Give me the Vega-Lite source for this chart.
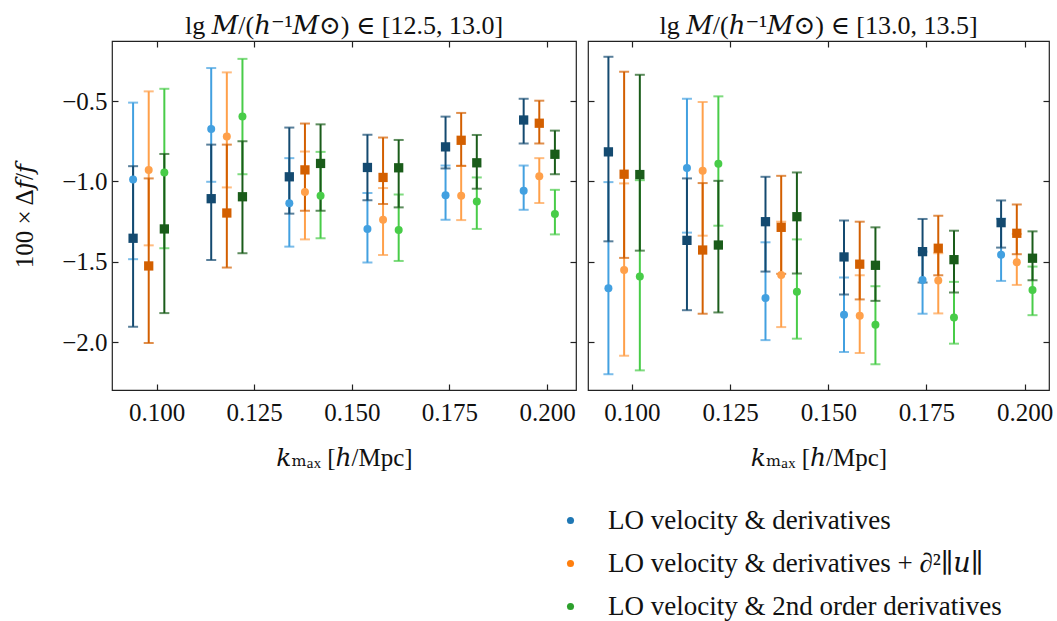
{
  "$schema": "https://vega.github.io/schema/vega-lite/v6.json",
  "padding": {"left": 12, "top": 12, "right": 5, "bottom": 5},
  "spacing": 8,
  "datasets": {
    "L": [
      {"x":0.094,"y":-0.988,"lo":-1.483,"hi":-0.510,"t":"bc","s":"c"},
      {"x":0.098,"y":-0.928,"lo":-1.397,"hi":-0.440,"t":"oc","s":"c"},
      {"x":0.102,"y":-0.944,"lo":-1.415,"hi":-0.424,"t":"gc","s":"c"},
      {"x":0.114,"y":-0.674,"lo":-1.002,"hi":-0.295,"t":"bc","s":"c"},
      {"x":0.118,"y":-0.721,"lo":-1.037,"hi":-0.322,"t":"oc","s":"c"},
      {"x":0.122,"y":-0.597,"lo":-0.955,"hi":-0.238,"t":"gc","s":"c"},
      {"x":0.134,"y":-1.136,"lo":-1.405,"hi":-0.855,"t":"bc","s":"c"},
      {"x":0.138,"y":-1.066,"lo":-1.360,"hi":-0.814,"t":"oc","s":"c"},
      {"x":0.142,"y":-1.089,"lo":-1.353,"hi":-0.816,"t":"gc","s":"c"},
      {"x":0.154,"y":-1.295,"lo":-1.504,"hi":-1.072,"t":"bc","s":"c"},
      {"x":0.158,"y":-1.238,"lo":-1.457,"hi":-1.041,"t":"oc","s":"c"},
      {"x":0.162,"y":-1.302,"lo":-1.494,"hi":-1.081,"t":"gc","s":"c"},
      {"x":0.174,"y":-1.085,"lo":-1.238,"hi":-0.901,"t":"bc","s":"c"},
      {"x":0.178,"y":-1.089,"lo":-1.240,"hi":-0.903,"t":"oc","s":"c"},
      {"x":0.182,"y":-1.124,"lo":-1.295,"hi":-0.975,"t":"gc","s":"c"},
      {"x":0.194,"y":-1.058,"lo":-1.176,"hi":-0.901,"t":"bc","s":"c"},
      {"x":0.198,"y":-0.967,"lo":-1.134,"hi":-0.855,"t":"oc","s":"c"},
      {"x":0.202,"y":-1.202,"lo":-1.329,"hi":-1.052,"t":"gc","s":"c"},
      {"x":0.094,"y":-1.353,"lo":-1.903,"hi":-0.905,"t":"bs","s":"s"},
      {"x":0.098,"y":-1.525,"lo":-2.004,"hi":-0.981,"t":"os","s":"s"},
      {"x":0.102,"y":-1.295,"lo":-1.818,"hi":-0.829,"t":"gs","s":"s"},
      {"x":0.114,"y":-1.107,"lo":-1.488,"hi":-0.771,"t":"bs","s":"s"},
      {"x":0.118,"y":-1.196,"lo":-1.535,"hi":-0.771,"t":"os","s":"s"},
      {"x":0.122,"y":-1.095,"lo":-1.446,"hi":-0.750,"t":"gs","s":"s"},
      {"x":0.134,"y":-0.971,"lo":-1.200,"hi":-0.665,"t":"bs","s":"s"},
      {"x":0.138,"y":-0.928,"lo":-1.182,"hi":-0.640,"t":"os","s":"s"},
      {"x":0.142,"y":-0.888,"lo":-1.182,"hi":-0.645,"t":"gs","s":"s"},
      {"x":0.154,"y":-0.913,"lo":-1.116,"hi":-0.709,"t":"bs","s":"s"},
      {"x":0.158,"y":-0.975,"lo":-1.140,"hi":-0.727,"t":"os","s":"s"},
      {"x":0.162,"y":-0.915,"lo":-1.161,"hi":-0.742,"t":"gs","s":"s"},
      {"x":0.174,"y":-0.785,"lo":-0.919,"hi":-0.597,"t":"bs","s":"s"},
      {"x":0.178,"y":-0.744,"lo":-0.903,"hi":-0.574,"t":"os","s":"s"},
      {"x":0.182,"y":-0.884,"lo":-1.045,"hi":-0.711,"t":"gs","s":"s"},
      {"x":0.194,"y":-0.618,"lo":-0.764,"hi":-0.486,"t":"bs","s":"s"},
      {"x":0.198,"y":-0.638,"lo":-0.764,"hi":-0.498,"t":"os","s":"s"},
      {"x":0.202,"y":-0.831,"lo":-0.955,"hi":-0.684,"t":"gs","s":"s"}
    ],
    "R": [
      {"x":0.094,"y":-1.663,"lo":-2.198,"hi":-1.004,"t":"bc","s":"c"},
      {"x":0.098,"y":-1.550,"lo":-2.083,"hi":-1.012,"t":"oc","s":"c"},
      {"x":0.102,"y":-1.591,"lo":-2.174,"hi":-0.992,"t":"gc","s":"c"},
      {"x":0.114,"y":-0.917,"lo":-1.318,"hi":-0.486,"t":"bc","s":"c"},
      {"x":0.118,"y":-0.934,"lo":-1.337,"hi":-0.506,"t":"oc","s":"c"},
      {"x":0.122,"y":-0.890,"lo":-1.275,"hi":-0.471,"t":"gc","s":"c"},
      {"x":0.134,"y":-1.725,"lo":-1.986,"hi":-1.378,"t":"bc","s":"c"},
      {"x":0.138,"y":-1.581,"lo":-1.905,"hi":-1.250,"t":"oc","s":"c"},
      {"x":0.142,"y":-1.686,"lo":-1.977,"hi":-1.360,"t":"gc","s":"c"},
      {"x":0.154,"y":-1.828,"lo":-2.060,"hi":-1.597,"t":"bc","s":"c"},
      {"x":0.158,"y":-1.835,"lo":-2.066,"hi":-1.583,"t":"oc","s":"c"},
      {"x":0.162,"y":-1.890,"lo":-2.136,"hi":-1.651,"t":"gc","s":"c"},
      {"x":0.174,"y":-1.612,"lo":-1.822,"hi":-1.436,"t":"bc","s":"c"},
      {"x":0.178,"y":-1.616,"lo":-1.820,"hi":-1.446,"t":"oc","s":"c"},
      {"x":0.182,"y":-1.845,"lo":-2.008,"hi":-1.624,"t":"gc","s":"c"},
      {"x":0.194,"y":-1.455,"lo":-1.618,"hi":-1.231,"t":"bc","s":"c"},
      {"x":0.198,"y":-1.502,"lo":-1.643,"hi":-1.326,"t":"oc","s":"c"},
      {"x":0.202,"y":-1.674,"lo":-1.831,"hi":-1.529,"t":"gc","s":"c"},
      {"x":0.094,"y":-0.816,"lo":-1.372,"hi":-0.225,"t":"bs","s":"s"},
      {"x":0.098,"y":-0.955,"lo":-1.475,"hi":-0.318,"t":"os","s":"s"},
      {"x":0.102,"y":-0.957,"lo":-1.430,"hi":-0.337,"t":"gs","s":"s"},
      {"x":0.114,"y":-1.366,"lo":-1.800,"hi":-0.981,"t":"bs","s":"s"},
      {"x":0.118,"y":-1.426,"lo":-1.822,"hi":-1.010,"t":"os","s":"s"},
      {"x":0.122,"y":-1.395,"lo":-1.814,"hi":-0.996,"t":"gs","s":"s"},
      {"x":0.134,"y":-1.250,"lo":-1.560,"hi":-0.971,"t":"bs","s":"s"},
      {"x":0.138,"y":-1.285,"lo":-1.574,"hi":-0.965,"t":"os","s":"s"},
      {"x":0.142,"y":-1.219,"lo":-1.572,"hi":-0.944,"t":"gs","s":"s"},
      {"x":0.154,"y":-1.469,"lo":-1.702,"hi":-1.242,"t":"bs","s":"s"},
      {"x":0.158,"y":-1.514,"lo":-1.733,"hi":-1.250,"t":"os","s":"s"},
      {"x":0.162,"y":-1.521,"lo":-1.742,"hi":-1.285,"t":"gs","s":"s"},
      {"x":0.174,"y":-1.436,"lo":-1.628,"hi":-1.233,"t":"bs","s":"s"},
      {"x":0.178,"y":-1.415,"lo":-1.583,"hi":-1.213,"t":"os","s":"s"},
      {"x":0.182,"y":-1.486,"lo":-1.690,"hi":-1.306,"t":"gs","s":"s"},
      {"x":0.194,"y":-1.256,"lo":-1.411,"hi":-1.118,"t":"bs","s":"s"},
      {"x":0.198,"y":-1.322,"lo":-1.452,"hi":-1.143,"t":"os","s":"s"},
      {"x":0.202,"y":-1.477,"lo":-1.614,"hi":-1.310,"t":"gs","s":"s"}
    ],
    "M": [
      {"m":"LO velocity & derivatives"},
      {"m":"LO velocity & derivatives + ∂²∥𝑢∥"},
      {"m":"LO velocity & 2nd order derivatives"}
    ]
  },
  "config": {
    "font": "Liberation Serif, DejaVu Serif",
    "view": {"stroke": "#222222", "strokeWidth": 1.2},
    "style": {
      "guide-label": {"font": "Liberation Serif, DejaVu Serif"},
      "guide-title": {"font": "Liberation Serif, DejaVu Serif"},
      "group-title": {"font": "Liberation Serif, DejaVu Serif"}
    },
    "axis": {
      "domain": false, "grid": false, "tickSize": -6, "tickColor": "#222222", "tickWidth": 1.2,
      "labelFont": "Liberation Serif, DejaVu Serif", "labelFontSize": 25, "labelColor": "#111111",
      "titleFont": "Liberation Serif, DejaVu Serif", "titleFontSize": 25, "titleFontWeight": "normal", "titleColor": "#111111"
    },
    "title": {"font": "Liberation Serif, DejaVu Serif", "fontSize": 26, "fontWeight": "normal", "color": "#111111", "offset": 1},
    "legend": {"labelFont": "Liberation Serif, DejaVu Serif", "labelFontSize": 27, "labelColor": "#111111", "padding": 0}
  },
  "hconcat": [
    {
      "width": 464, "height": 349,
      "title": "lg 𝑀/(ℎ⁻¹𝑀⊙) ∈ [12.5, 13.0]",
      "data": {"name": "L"},
      "resolve": {"axis": {"x": "independent", "y": "independent"}},
      "layer": [
        {
          "transform": [{"filter": "datum.s == 'c'"}],
          "mark": {"type": "rule", "strokeWidth": 2},
          "encoding": {
            "x": {"field": "x", "type": "quantitative", "scale": {"domain": [0.0886, 0.2074], "nice": false, "zero": false},
                  "axis": {"orient": "bottom", "values": [0.1, 0.125, 0.15, 0.175, 0.2], "format": ".3f", "labelPadding": 16, "labelFont": "Liberation Serif, DejaVu Serif", "titleFont": "Liberation Serif, DejaVu Serif", "title": "𝑘ₘₐₓ [ℎ/Mpc]", "titlePadding": 20}},
            "y": {"field": "lo", "type": "quantitative", "scale": {"domain": [-2.296, -0.127], "nice": false, "zero": false},
                  "axis": {"orient": "left", "values": [-2, -1.5, -1, -0.5], "format": ".1f", "labelPadding": 11, "labelFont": "Liberation Serif, DejaVu Serif", "titleFont": "Liberation Serif, DejaVu Serif", "title": "100 × Δ𝑓/𝑓", "titlePadding": 24}},
            "y2": {"field": "hi"},
            "color": {"field": "t", "type": "nominal", "legend": null,
                      "scale": {"domain": ["bc", "oc", "gc", "bs", "os", "gs"], "range": ["#42a0e0", "#ffa04a", "#48cc48", "#144a70", "#d35f00", "#1a5c1a"]}}
          }
        },
        {
          "transform": [{"filter": "datum.s == 'c'"}],
          "mark": {"type": "tick", "orient": "horizontal", "size": 10, "thickness": 2},
          "encoding": {
            "x": {"field": "x", "type": "quantitative", "axis": {"orient": "top", "values": [0.1, 0.125, 0.15, 0.175, 0.2], "labels": false, "title": null}},
            "y": {"field": "lo", "type": "quantitative", "axis": {"orient": "right", "values": [-2, -1.5, -1, -0.5], "labels": false, "title": null}},
            "color": {"field": "t", "type": "nominal", "legend": null}
          }
        },
        {
          "transform": [{"filter": "datum.s == 'c'"}],
          "mark": {"type": "tick", "orient": "horizontal", "size": 10, "thickness": 2},
          "encoding": {
            "x": {"field": "x", "type": "quantitative", "axis": null},
            "y": {"field": "hi", "type": "quantitative", "axis": null},
            "color": {"field": "t", "type": "nominal", "legend": null}
          }
        },
        {
          "transform": [{"filter": "datum.s == 's'"}],
          "mark": {"type": "rule", "strokeWidth": 2},
          "encoding": {
            "x": {"field": "x", "type": "quantitative", "axis": null},
            "y": {"field": "lo", "type": "quantitative", "axis": null},
            "y2": {"field": "hi"},
            "color": {"field": "t", "type": "nominal", "legend": null}
          }
        },
        {
          "transform": [{"filter": "datum.s == 's'"}],
          "mark": {"type": "tick", "orient": "horizontal", "size": 10, "thickness": 2},
          "encoding": {
            "x": {"field": "x", "type": "quantitative", "axis": null},
            "y": {"field": "lo", "type": "quantitative", "axis": null},
            "color": {"field": "t", "type": "nominal", "legend": null}
          }
        },
        {
          "transform": [{"filter": "datum.s == 's'"}],
          "mark": {"type": "tick", "orient": "horizontal", "size": 10, "thickness": 2},
          "encoding": {
            "x": {"field": "x", "type": "quantitative", "axis": null},
            "y": {"field": "hi", "type": "quantitative", "axis": null},
            "color": {"field": "t", "type": "nominal", "legend": null}
          }
        },
        {
          "transform": [{"filter": "datum.s == 'c'"}],
          "mark": {"type": "circle", "size": 64, "opacity": 1},
          "encoding": {
            "x": {"field": "x", "type": "quantitative", "axis": null},
            "y": {"field": "y", "type": "quantitative", "axis": null},
            "color": {"field": "t", "type": "nominal", "legend": null}
          }
        },
        {
          "transform": [{"filter": "datum.s == 's'"}],
          "mark": {"type": "square", "size": 86, "opacity": 1},
          "encoding": {
            "x": {"field": "x", "type": "quantitative", "axis": null},
            "y": {"field": "y", "type": "quantitative", "axis": null},
            "color": {"field": "t", "type": "nominal", "legend": null}
          }
        }
      ]
    },
    {
      "width": 461, "height": 349,
      "title": "lg 𝑀/(ℎ⁻¹𝑀⊙) ∈ [13.0, 13.5]",
      "resolve": {"axis": {"x": "independent", "y": "independent"}},
      "layer": [
        {
          "data": {"name": "R"},
          "transform": [{"filter": "datum.s == 'c'"}],
          "mark": {"type": "rule", "strokeWidth": 2},
          "encoding": {
            "x": {"field": "x", "type": "quantitative", "scale": {"domain": [0.0888, 0.2062], "nice": false, "zero": false},
                  "axis": {"orient": "bottom", "values": [0.1, 0.125, 0.15, 0.175, 0.2], "format": ".3f", "labelPadding": 16, "labelFont": "Liberation Serif, DejaVu Serif", "titleFont": "Liberation Serif, DejaVu Serif", "title": "𝑘ₘₐₓ [ℎ/Mpc]", "titlePadding": 20}},
            "y": {"field": "lo", "type": "quantitative", "scale": {"domain": [-2.296, -0.127], "nice": false, "zero": false},
                  "axis": {"orient": "left", "values": [-2, -1.5, -1, -0.5], "labels": false, "title": null}},
            "y2": {"field": "hi"},
            "color": {"field": "t", "type": "nominal", "legend": null,
                      "scale": {"domain": ["bc", "oc", "gc", "bs", "os", "gs"], "range": ["#42a0e0", "#ffa04a", "#48cc48", "#144a70", "#d35f00", "#1a5c1a"]}}
          }
        },
        {
          "data": {"name": "R"},
          "transform": [{"filter": "datum.s == 'c'"}],
          "mark": {"type": "tick", "orient": "horizontal", "size": 10, "thickness": 2},
          "encoding": {
            "x": {"field": "x", "type": "quantitative", "axis": {"orient": "top", "values": [0.1, 0.125, 0.15, 0.175, 0.2], "labels": false, "title": null}},
            "y": {"field": "lo", "type": "quantitative", "axis": {"orient": "right", "values": [-2, -1.5, -1, -0.5], "labels": false, "title": null}},
            "color": {"field": "t", "type": "nominal", "legend": null}
          }
        },
        {
          "data": {"name": "R"},
          "transform": [{"filter": "datum.s == 'c'"}],
          "mark": {"type": "tick", "orient": "horizontal", "size": 10, "thickness": 2},
          "encoding": {
            "x": {"field": "x", "type": "quantitative", "axis": null},
            "y": {"field": "hi", "type": "quantitative", "axis": null},
            "color": {"field": "t", "type": "nominal", "legend": null}
          }
        },
        {
          "data": {"name": "R"},
          "transform": [{"filter": "datum.s == 's'"}],
          "mark": {"type": "rule", "strokeWidth": 2},
          "encoding": {
            "x": {"field": "x", "type": "quantitative", "axis": null},
            "y": {"field": "lo", "type": "quantitative", "axis": null},
            "y2": {"field": "hi"},
            "color": {"field": "t", "type": "nominal", "legend": null}
          }
        },
        {
          "data": {"name": "R"},
          "transform": [{"filter": "datum.s == 's'"}],
          "mark": {"type": "tick", "orient": "horizontal", "size": 10, "thickness": 2},
          "encoding": {
            "x": {"field": "x", "type": "quantitative", "axis": null},
            "y": {"field": "lo", "type": "quantitative", "axis": null},
            "color": {"field": "t", "type": "nominal", "legend": null}
          }
        },
        {
          "data": {"name": "R"},
          "transform": [{"filter": "datum.s == 's'"}],
          "mark": {"type": "tick", "orient": "horizontal", "size": 10, "thickness": 2},
          "encoding": {
            "x": {"field": "x", "type": "quantitative", "axis": null},
            "y": {"field": "hi", "type": "quantitative", "axis": null},
            "color": {"field": "t", "type": "nominal", "legend": null}
          }
        },
        {
          "data": {"name": "R"},
          "transform": [{"filter": "datum.s == 'c'"}],
          "mark": {"type": "circle", "size": 64, "opacity": 1},
          "encoding": {
            "x": {"field": "x", "type": "quantitative", "axis": null},
            "y": {"field": "y", "type": "quantitative", "axis": null},
            "color": {"field": "t", "type": "nominal", "legend": null}
          }
        },
        {
          "data": {"name": "R"},
          "transform": [{"filter": "datum.s == 's'"}],
          "mark": {"type": "square", "size": 86, "opacity": 1},
          "encoding": {
            "x": {"field": "x", "type": "quantitative", "axis": null},
            "y": {"field": "y", "type": "quantitative", "axis": null},
            "color": {"field": "t", "type": "nominal", "legend": null}
          }
        },
        {
          "data": {"name": "M"},
          "mark": {"type": "circle", "opacity": 0},
          "encoding": {
            "fill": {"field": "m", "type": "nominal", "title": null,
                     "scale": {"domain": ["LO velocity & derivatives", "LO velocity & derivatives + ∂²∥𝑢∥", "LO velocity & 2nd order derivatives"], "range": ["#1f77b4", "#ff7f0e", "#2ca02c"]},
                     "legend": {"orient": "none", "legendX": 445, "legendY": 466, "symbolType": "circle", "symbolSize": 50, "symbolOpacity": 1, "symbolStrokeWidth": 0, "labelOffset": 24, "rowPadding": 15, "labelLimit": 600}}
          }
        }
      ]
    }
  ]
}
